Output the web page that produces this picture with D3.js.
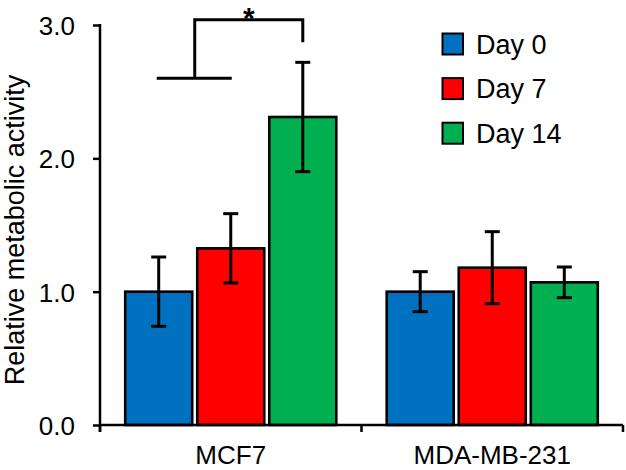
<!DOCTYPE html>
<html>
<head>
<meta charset="utf-8">
<script src="https://cdn.jsdelivr.net/npm/d3@7"></script>
<style>
  html, body { margin: 0; padding: 0; background: #fff; }
  svg { display: block; }
  text { font-family: "Liberation Sans", Arial, sans-serif; fill: #000; }
</style>
</head>
<body>
<svg id="chart" width="626" height="470"></svg>
<script>
// ---- data ----
const categories = ["MCF7", "MDA-MB-231"];
const seriesNames = ["Day 0", "Day 7", "Day 14"];
const seriesColors = ["#0070C0", "#FF0000", "#00B050"];
const day0 = [1.00, 1.00];
const day7 = [1.325, 1.18];
const day14 = [2.31, 1.07];
const err0 = [0.26, 0.15];
const err7 = [0.26, 0.27];
const err14 = [0.41, 0.115];
const yTicks = [0, 1, 2, 3];
const yTickLabels = ["0.0", "1.0", "2.0", "3.0"];
const yLabel = "Relative metabolic activity";
// significance bracket (MCF7: Day0/Day7 vs Day14)
const sigLow = 2.6, sigHigh = 3.04, sigRightEnd = 2.87;
const sigLabel = "*";

const values = [day0, day7, day14];
const errors = [err0, err7, err14];

const svg = d3.select("#chart");
const y = d3.scaleLinear().domain([0, 3]).range([425, 25]);
const x0 = d3.scaleBand().domain(categories).range([100, 623]).paddingInner(0).paddingOuter(0);
const x1 = d3.scaleBand().domain(seriesNames).range([0, x0.bandwidth()]).paddingInner(0.07).paddingOuter(0.35);

// bars
const data = [];
categories.forEach((c, ci) => {
  seriesNames.forEach((s, si) => {
    data.push({ c, s, si, v: values[si][ci], e: errors[si][ci] });
  });
});

svg.append("g").selectAll("rect").data(data).join("rect")
  .attr("x", d => x0(d.c) + x1(d.s))
  .attr("y", d => y(d.v))
  .attr("width", x1.bandwidth())
  .attr("height", d => y(0) - y(d.v))
  .attr("fill", d => seriesColors[d.si])
  .attr("stroke", "#000")
  .attr("stroke-width", 2.6);

// error bars
const eg = svg.append("g").attr("stroke", "#000").attr("stroke-width", 3);
data.forEach(d => {
  const cx = x0(d.c) + x1(d.s) + x1.bandwidth() / 2;
  eg.append("line").attr("x1", cx).attr("x2", cx).attr("y1", y(d.v + d.e)).attr("y2", y(d.v - d.e));
  eg.append("line").attr("x1", cx - 7.5).attr("x2", cx + 7.5).attr("y1", y(d.v + d.e)).attr("y2", y(d.v + d.e));
  eg.append("line").attr("x1", cx - 7.5).attr("x2", cx + 7.5).attr("y1", y(d.v - d.e)).attr("y2", y(d.v - d.e));
});

// axes
const yAxis = svg.append("g").attr("transform", "translate(100,0)")
  .call(d3.axisLeft(y).tickValues(yTicks).tickFormat((d, i) => yTickLabels[i]).tickSize(7).tickPadding(18));
yAxis.select(".domain").remove();
yAxis.selectAll(".tick line").attr("stroke", "#000").attr("stroke-width", 2.5);
yAxis.selectAll(".tick text").attr("font-size", 26).attr("font-family", "Liberation Sans, Arial, sans-serif").attr("dy", "0.36em");
svg.append("line").attr("x1", 100).attr("x2", 100).attr("y1", y(3) - 1).attr("y2", y(0) + 7)
  .attr("stroke", "#000").attr("stroke-width", 2.5);

const xTickPos = [x0.range()[0], x0(categories[1]), x0.range()[1]];
svg.append("line").attr("x1", 100).attr("x2", 623).attr("y1", y(0)).attr("y2", y(0))
  .attr("stroke", "#000").attr("stroke-width", 2.5);
xTickPos.forEach(p => {
  svg.append("line").attr("x1", p).attr("x2", p).attr("y1", y(0)).attr("y2", y(0) + 7)
    .attr("stroke", "#000").attr("stroke-width", 2.5);
});
svg.append("g").selectAll("text").data(categories).join("text")
  .attr("x", d => x0(d) + x0.bandwidth() / 2)
  .attr("y", 464)
  .attr("text-anchor", "middle")
  .attr("font-size", 26)
  .text(d => d);

// y label
svg.append("text")
  .attr("transform", "translate(24,230) rotate(-90)")
  .attr("text-anchor", "middle")
  .attr("font-size", 27)
  .text(yLabel);

// significance bracket
const cBlue = x0("MCF7") + x1("Day 0") + x1.bandwidth() / 2;
const cRed = x0("MCF7") + x1("Day 7") + x1.bandwidth() / 2;
const cGreen = x0("MCF7") + x1("Day 14") + x1.bandwidth() / 2;
const cMid = (cBlue + cRed) / 2;
const bg = svg.append("g").attr("stroke", "#000").attr("stroke-width", 3).attr("fill", "none");
bg.append("line").attr("x1", cBlue - 2).attr("x2", cRed + 1).attr("y1", y(sigLow)).attr("y2", y(sigLow));
bg.append("path").attr("d", `M${cMid},${y(sigLow)} L${cMid},${y(sigHigh)} L${cGreen},${y(sigHigh)} L${cGreen},${y(sigRightEnd)}`)
  .attr("stroke-linejoin", "miter").attr("stroke-linecap", "butt");
svg.append("text")
  .attr("x", (cMid + cGreen) / 2)
  .attr("y", 27.5)
  .attr("text-anchor", "middle")
  .attr("font-size", 30)
  .attr("font-weight", "bold")
  .text(sigLabel);

// legend
const lg = svg.append("g");
seriesNames.forEach((s, i) => {
  const yy = 33 + i * 44.6;
  lg.append("rect").attr("x", 442.5).attr("y", yy + 0.5).attr("width", 20.5).attr("height", 21)
    .attr("fill", seriesColors[i]).attr("stroke", "#000").attr("stroke-width", 2);
  lg.append("text").attr("x", 476).attr("y", yy + 20.5).attr("font-size", 27).text(s);
});
</script>
</body>
</html>
